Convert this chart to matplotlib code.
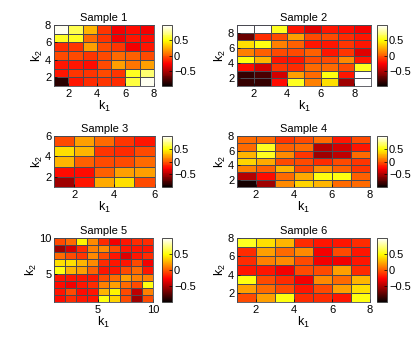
import numpy as np
import matplotlib
matplotlib.use("Agg")
import matplotlib.pyplot as plt

plt.rcParams['font.family'] = ['Liberation Sans', 'DejaVu Sans']
plt.rcParams['mathtext.fontset'] = 'custom'
plt.rcParams['mathtext.rm'] = 'Liberation Sans'
plt.rcParams['mathtext.it'] = 'Liberation Sans'
plt.rcParams['axes.unicode_minus'] = True

titles = ["Sample 1", "Sample 2", "Sample 3", "Sample 4", "Sample 5", "Sample 6"]

# cell values, rows listed top (largest k2) to bottom
sample1 = [
    [0.95, 0.65, 0.25, -0.10, -0.30, -0.25, -0.30],
    [0.55, 0.55, 0.05, -0.10, -0.30, -0.20, -0.25],
    [-0.15, -0.10, 0.20, -0.05, -0.10, -0.30, -0.20],
    [-0.05, -0.05, -0.10, -0.05, 0.05, 0.00, -0.05],
    [-0.20, -0.20, -0.25, -0.05, 0.20, 0.08, 0.20],
    [-0.20, -0.10, -0.10, -0.05, -0.10, 0.55, 0.70],
    [-0.90, -0.20, -0.15, -0.10, -0.15, 0.62, 0.95],
]
sample2 = [
    [1.00, 1.00, 0.55, -0.20, -0.35, -0.20, -0.25, -0.30],
    [-0.70, -0.15, -0.05, 0.20, -0.05, -0.05, -0.15, -0.20],
    [0.40, 0.50, 0.10, 0.00, -0.20, -0.20, -0.10, -0.20],
    [0.10, 0.00, -0.05, -0.05, 0.00, -0.20, -0.10, -0.35],
    [0.50, 0.25, -0.20, -0.20, -0.05, -0.05, 0.15, -0.20],
    [-0.25, -0.40, -0.10, -0.15, 0.05, 0.05, -0.05, 0.55],
    [-0.85, -0.80, -0.40, 0.20, 0.05, 0.50, -0.20, 1.00],
    [-0.85, -0.85, -0.25, 0.55, 0.10, 0.40, -0.55, 1.00],
]
sample3 = [
    [-0.05, 0.20, 0.05, -0.10, -0.20],
    [0.40, 0.25, -0.10, -0.15, -0.05],
    [0.25, 0.00, -0.05, -0.05, 0.05],
    [-0.25, -0.25, 0.00, 0.20, 0.20],
    [-0.55, -0.20, 0.22, 0.38, -0.05],
]
sample4 = [
    [0.05, 0.05, -0.10, -0.05, 0.05, -0.20, -0.05],
    [0.05, 0.55, 0.00, 0.05, -0.50, -0.40, -0.20],
    [0.25, 0.55, 0.15, -0.10, -0.55, -0.45, 0.05],
    [0.35, 0.22, -0.05, -0.05, -0.15, -0.05, -0.10],
    [0.10, 0.00, 0.25, -0.05, 0.15, 0.00, -0.10],
    [-0.50, -0.25, 0.05, 0.22, 0.50, 0.50, 0.00],
    [-0.95, -0.55, 0.15, 0.35, 0.25, 0.05, 0.05],
]
sample5 = [
    [-0.05, 0.05, 0.45, 0.15, -0.15, -0.30, -0.20, -0.15, -0.15],
    [-0.55, -0.40, -0.15, 0.10, 0.15, -0.05, -0.20, -0.20, -0.20],
    [0.05, -0.05, -0.10, 0.15, -0.05, -0.20, -0.35, -0.20, -0.15],
    [0.40, 0.40, 0.25, 0.15, -0.15, -0.20, -0.20, -0.05, -0.30],
    [0.50, 0.25, 0.20, 0.00, -0.20, -0.20, -0.05, 0.05, -0.20],
    [-0.20, -0.20, -0.20, -0.20, -0.05, 0.05, 0.20, 0.10, 0.10],
    [-0.25, -0.30, -0.20, -0.15, 0.10, 0.20, 0.05, -0.05, 0.50],
    [-0.20, -0.05, -0.25, -0.20, 0.25, 0.45, -0.05, -0.45, 0.10],
    [-0.25, -0.15, -0.20, -0.20, 0.50, 0.35, -0.05, -0.55, -0.05],
]
sample6 = [
    [0.55, 0.38, 0.25, -0.15, -0.20, -0.20, -0.15],
    [-0.15, 0.20, 0.05, 0.15, -0.30, -0.05, -0.20],
    [-0.15, 0.10, 0.15, -0.05, -0.30, -0.30, -0.20],
    [-0.20, -0.20, -0.30, -0.05, -0.05, 0.20, -0.15],
    [0.50, -0.05, -0.15, -0.30, 0.15, 0.05, 0.25],
    [0.20, 0.05, -0.05, -0.20, -0.05, 0.20, 0.40],
    [-0.05, 0.20, 0.50, -0.15, -0.15, -0.20, 0.50],
]
samples = [sample1, sample2, sample3, sample4, sample5, sample6]

xticks_list = [[2, 4, 6, 8], [2, 4, 6, 8], [2, 4, 6], [2, 4, 6, 8], [5, 10], [2, 4, 6, 8]]
yticks_list = [[2, 4, 6, 8], [2, 4, 6, 8], [2, 4, 6], [2, 4, 6, 8], [5, 10], [2, 4, 6, 8]]
cbar_ticks = [-0.5, 0, 0.5]

W, H = 415, 340
# pixel boxes: (left, top, right, bottom), colorbar (left, right)
boxes = [
    (54, 25, 154, 86, 162, 172),
    (237, 25, 371, 86, 377, 387),
    (54, 136, 154.5, 187, 162, 172),
    (237, 136, 369.5, 187, 377, 387),
    (54, 238, 153, 302, 162, 172),
    (237, 238, 370, 302, 377, 387),
]

def frac(l, t, r, b):
    return [l / W, 1 - b / H, (r - l) / W, (b - t) / H]

fig = plt.figure(figsize=(W / 100, H / 100), dpi=100)
cmap = plt.get_cmap('hot', 64)
fs = 8
edge = '#4a4a52'

for i, data in enumerate(samples):
    l, t, r, b, cl, cr = boxes[i]
    ax = fig.add_axes(frac(l, t, r, b))
    C = np.flipud(np.array(data))
    n = C.shape[0] + 1
    edges = np.arange(1, n + 1)
    m = ax.pcolormesh(edges, edges, C, cmap=cmap, vmin=-1, vmax=1,
                      edgecolors=edge, linewidth=0.6, shading='flat')
    ax.set_xlim(1, n)
    ax.set_ylim(1, n)
    ax.set_xticks(xticks_list[i])
    ax.set_yticks(yticks_list[i])
    ax.tick_params(direction='in', length=2.5, width=0.5, labelsize=fs, pad=2,
                   top=False, right=False)
    for s in ax.spines.values():
        s.set_color(edge)
        s.set_linewidth(0.6)
    ax.set_title(titles[i], fontsize=fs, pad=3)
    ax.set_xlabel(r'$\mathrm{k}_1$', fontsize=fs + 1, labelpad=0)
    ax.set_ylabel(r'$\mathrm{k}_2$', fontsize=fs + 1, labelpad=0)

    cax = fig.add_axes(frac(cl, t, cr, b))
    cb = fig.colorbar(m, cax=cax, ticks=cbar_ticks)
    cb.ax.tick_params(direction='in', length=2, width=0.5, labelsize=fs, pad=1.5)
    cb.ax.set_yticklabels(['\u22120.5', '0', '0.5'])
    cb.outline.set_linewidth(0.6)
    cb.outline.set_edgecolor('#303030')

fig.savefig('out.png', dpi=100)
